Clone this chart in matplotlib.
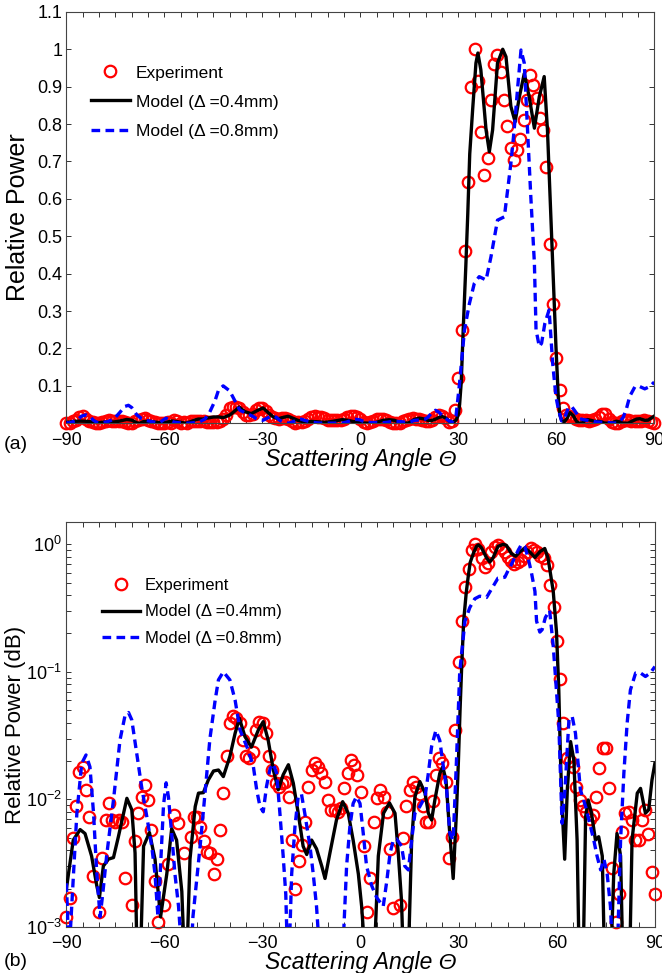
import numpy as np
import matplotlib
matplotlib.use("Agg")
from matplotlib import pyplot as plt
from matplotlib.ticker import MultipleLocator, LogLocator, NullFormatter, FixedLocator

plt.rcParams['font.family'] = ['Liberation Sans', 'DejaVu Sans']
plt.rcParams['mathtext.fontset'] = 'custom'
plt.rcParams['mathtext.rm'] = 'Liberation Sans'
plt.rcParams['mathtext.it'] = 'Liberation Sans:italic'

# measured scattered power, one point per degree
exp_angle = list(range(-90, 91))
exp_power = [
    0.0012, 0.0017, 0.0050, 0.0088, 0.0165, 0.0181, 0.0119, 0.0073, 0.0025, 0.0008,   # -90..-81
    0.0013, 0.0035, 0.0069, 0.0093, 0.0069, 0.0067, 0.0069, 0.0066, 0.0024, 0.0008,   # -80..-71
    0.0015, 0.0047, 0.0078, 0.0105, 0.0130, 0.0099, 0.0058, 0.0023, 0.0011, 0.0008,   # -70..-61
    0.0015, 0.0031, 0.0009, 0.0076, 0.0065, 0.0008, 0.0038, 0.0009, 0.0051, 0.0073,   # -60..-51
    0.0073, 0.0061, 0.0047, 0.0039, 0.0038, 0.0026, 0.0034, 0.0058, 0.0112, 0.0217,   # -50..-41
    0.0395, 0.0447, 0.0433, 0.0400, 0.0293, 0.0217, 0.0210, 0.0237, 0.0350, 0.0407,   # -40..-31
    0.0395, 0.0330, 0.0217, 0.0170, 0.0134, 0.0125, 0.0134, 0.0138, 0.0105, 0.0048,   # -30..-21
    0.0020, 0.0033, 0.0044, 0.0067, 0.0126, 0.0170, 0.0192, 0.0180, 0.0160, 0.0138,   # -20..-11
    0.0099, 0.0083, 0.0083, 0.0080, 0.0085, 0.0122, 0.0160, 0.0204, 0.0187, 0.0156,   # -10..-1
    0.0115, 0.0043, 0.0013, 0.0024, 0.0067, 0.0102, 0.0119, 0.0105, 0.0080, 0.0041,   # 0..9
    0.0014, 0.0008, 0.0015, 0.0050, 0.0088, 0.0119, 0.0138, 0.0126, 0.0110, 0.0088,   # 10..19
    0.0067, 0.0067, 0.0097, 0.0156, 0.0210, 0.0192, 0.0138, 0.0035, 0.0051, 0.035,    # 20..29
    0.12, 0.25, 0.46, 0.645, 0.90, 1.00, 0.915, 0.78, 0.665, 0.71,                    # 30..39
    0.865, 0.96, 0.985, 0.94, 0.865, 0.795, 0.735, 0.705, 0.73, 0.76,                 # 40..49
    0.81, 0.865, 0.93, 0.905, 0.87, 0.815, 0.785, 0.685, 0.48, 0.32,                  # 50..59
    0.175, 0.088, 0.040, 0.021, 0.020, 0.018, 0.0126, 0.0099, 0.0088, 0.0080,         # 60..69
    0.0070, 0.0075, 0.0105, 0.0176, 0.0252, 0.0252, 0.0122, 0.0029, 0.0011, 0.0018,   # 70..79
    0.0056, 0.0078, 0.0080, 0.0069, 0.0048, 0.0048, 0.0069, 0.0083, 0.0054, 0.0027,   # 80..89
    0.0018,                                                                           # 90
]

# model, delta = 0.4 mm
m04_angle = [
    -90.0, -87.9, -85.8, -84.3, -82.3, -80.7, -79.9, -78.7, -77.2, -75.6, -74.1,
    -71.5, -70.0, -69.0, -68.2, -67.4, -66.4, -64.6, -62.9, -61.2, -59.3, -57.8,
    -56.3, -54.7, -53.5, -52.2, -50.6, -49.6, -48.1, -46.6, -45.0, -43.5, -42.0,
    -40.0, -38.4, -37.1, -35.4, -33.4, -31.3, -29.8, -28.3, -26.7, -25.2, -23.7,
    -22.1, -20.6, -19.1, -17.6, -16.5, -15.0, -13.5, -11.9, -10.9, -9.4, -7.4,
    -5.5, -3.8, -2.3, -0.7, 0.3, 1.0, 2.5, 4.2, 5.4, 7.0, 8.8, 10.5, 11.5, 12.5,
    13.6, 14.8, 15.6, 16.6, 18.1, 19.7, 20.7, 21.7, 22.7, 24.2, 25.1, 26.1, 27.1,
    28.3, 29.3, 29.9, 30.4, 30.9, 31.5, 32.3, 32.9, 33.5, 34.4, 35.4, 36.0, 36.9,
    38.5, 39.5, 40.5, 42.0, 43.6, 44.6, 46.1, 47.4, 48.7, 50.2, 51.7, 53.3, 54.8,
    56.3, 57.3, 58.9, 59.9, 60.6, 61.1, 61.6, 62.4, 63.2, 64.2, 65.2, 66.2, 67.0,
    67.9, 68.8, 69.6, 70.6, 71.8, 72.8, 73.9, 74.8, 76.2, 77.4, 78.4, 79.5, 80.4,
    82.1, 83.0, 84.6, 85.6, 87.1, 88.1, 89.1, 90.0,
]
m04_power = [
    0.0020, 0.0048, 0.0058, 0.0054, 0.0036, 0.0021, 0.0017, 0.0030, 0.0034, 0.0035, 0.0051,
    0.0102, 0.0083, 0.0038, 0.0003, 0.0005, 0.0043, 0.0055, 0.0034, 0.0012, 0.0026, 0.0059,
    0.0048, 0.0019, 0.0003, 0.0034, 0.0088, 0.0112, 0.0113, 0.0142, 0.0167, 0.0170, 0.0151,
    0.0217, 0.0330, 0.0433, 0.0311, 0.0257, 0.0350, 0.0407, 0.0293, 0.0170, 0.0119, 0.0156,
    0.0187, 0.0134, 0.0078, 0.0043, 0.0037, 0.0048, 0.0041, 0.0030, 0.0024, 0.0038, 0.0069,
    0.0096, 0.0078, 0.0048, 0.0026, 0.00145, 0.0008, 0.0002, 0.0006, 0.0036, 0.0078, 0.0094, 0.0078, 0.0038, 0.0016,
    0.0002, 0.0009, 0.0048, 0.0105, 0.0138, 0.0112, 0.0078, 0.0069, 0.0099, 0.0160, 0.0180, 0.0142, 0.0061,
    0.0024, 0.0080, 0.020, 0.050, 0.11, 0.25, 0.42, 0.56, 0.72, 0.84, 0.963, 0.99, 0.945,
    0.784, 0.726, 0.784, 0.963, 1.0, 0.98, 0.847, 0.806, 0.873, 0.935, 0.873, 0.789, 0.873,
    0.927, 0.784, 0.428, 0.205, 0.072, 0.0217, 0.0088, 0.0034, 0.0119, 0.0284, 0.0204, 0.0048, 0.0003,
    0.0003, 0.0073, 0.0099, 0.0078, 0.0048, 0.0051, 0.0036, 0.0003, 0.0003, 0.0026, 0.0054, 0.0036, 0.0003,
    0.0003, 0.0048, 0.0112, 0.0122, 0.0078, 0.0083, 0.0142, 0.0192,
]

# model, delta = 0.8 mm
m08_angle = [
    -90.0, -89.2, -86.8, -85.3, -84.0, -82.8, -81.7, -80.7, -79.7, -78.9, -77.7,
    -75.6, -73.6, -72.1, -71.0, -70.0, -68.5, -67.0, -65.4, -63.9, -62.9, -62.0,
    -61.2, -60.3, -59.5, -58.8, -57.8, -56.8, -55.7, -55.0, -53.5, -52.0, -51.3,
    -49.1, -47.6, -46.1, -44.5, -43.5, -42.0, -40.0, -38.4, -36.9, -34.4, -32.8,
    -31.8, -30.8, -29.8, -28.8, -27.7, -26.7, -25.7, -24.7, -23.7, -22.9, -22.2,
    -21.5, -21.1, -20.1, -19.1, -18.1, -17.1, -15.5, -14.5, -13.5, -12.5, -9.0,
    -5.5, -4.3, -3.3, -2.3, -1.3, -0.2, 0.8, 1.8, 3.4, 4.9, 6.9, 8.0, 9.0, 10.0,
    11.0, 12.5, 13.5, 14.6, 15.6, 16.6, 18.1, 19.7, 20.7, 21.7, 23.0, 24.2, 25.3,
    26.3, 27.3, 28.3, 29.3, 30.3, 31.9, 33.4, 34.9, 36.4, 38.5, 40.0, 42.0, 44.1,
    45.1, 46.1, 47.1, 48.2, 49.2, 50.2, 51.2, 52.2, 53.3, 53.8, 54.8, 55.5, 56.5,
    57.8, 58.9, 59.9, 60.6, 61.6, 62.5, 63.7, 64.7, 65.7, 67.2, 68.8, 70.3, 71.3,
    72.3, 73.4, 74.4, 75.4, 76.4, 77.4, 78.5, 79.5, 80.5, 81.5, 82.5, 84.1, 85.6,
    87.1, 88.6, 90.0,
]
m08_power = [
    0.0022, 0.0006, 0.0078, 0.0192, 0.0223, 0.0180, 0.0078, 0.0026, 0.0012, 0.0018, 0.0036,
    0.0099, 0.0293, 0.045, 0.048, 0.042, 0.023, 0.0126, 0.0073, 0.0043, 0.0026, 0.0012,
    0.0030, 0.0090, 0.0135, 0.0105, 0.0054, 0.0026, 0.00145, 0.0008, 0.0002, 0.0005, 0.0012,
    0.0043, 0.0112, 0.030, 0.060, 0.0865, 0.100, 0.0865, 0.060, 0.035, 0.0244, 0.018,
    0.0119, 0.0088, 0.0080, 0.0126, 0.0175, 0.019, 0.016, 0.0078, 0.0036, 0.0018, 0.0004,
    0.0012, 0.0026, 0.0061, 0.0105, 0.011, 0.0078, 0.0043, 0.0026, 0.00145, 0.0006, 0.0002,
    0.0006, 0.0030, 0.0061, 0.0093, 0.0105, 0.0093, 0.0054, 0.0030, 0.0021, 0.0017, 0.00145, 0.0023, 0.0038, 0.0048,
    0.0049, 0.0043, 0.0030, 0.0028, 0.0048, 0.0078, 0.0088, 0.0105, 0.016, 0.026, 0.0347, 0.029, 0.018,
    0.0119, 0.0054, 0.0048, 0.020, 0.10, 0.25, 0.32, 0.374, 0.392, 0.383, 0.445, 0.543, 0.552,
    0.624, 0.695, 0.784, 0.90, 0.998, 0.963, 0.784, 0.606, 0.428, 0.25, 0.205, 0.214, 0.267,
    0.303, 0.16, 0.071, 0.0395, 0.0065, 0.012, 0.042, 0.0447, 0.033, 0.0119, 0.0088, 0.0061, 0.0048,
    0.0036, 0.0028, 0.0034, 0.0026, 0.00145, 0.0004, 0.0006, 0.0048, 0.016, 0.0395, 0.072, 0.098, 0.098,
    0.092, 0.098, 0.11,
]

x_ticks = [-90, -60, -30, 0, 30, 60, 90]
lin_yticks = [0.1, 0.2, 0.3, 0.4, 0.5, 0.6, 0.7, 0.8, 0.9, 1.0, 1.1]
lin_ylabels = ['0.1', '0.2', '0.3', '0.4', '0.5', '0.6', '0.7', '0.8', '0.9', '1', '1.1']

labels = ['Experiment', 'Model (\u0394 =0.4mm)', 'Model (\u0394 =0.8mm)']

fig = plt.figure(figsize=(6.62, 9.73), dpi=100)
ax1 = fig.add_axes([0.1003, 0.565, 0.888, 0.4228])
ax2 = fig.add_axes([0.1003, 0.0473, 0.889, 0.416])


def draw_panel(ax, log):
    ea = np.array(exp_angle)
    ep = np.array(exp_power)
    if log:
        keep = ep >= 1e-3
        ea, ep = ea[keep], ep[keep]
    ax.plot(ea, ep, 'o', mfc='none', mec='red', ms=8.3, mew=1.6, clip_on=False,
            label=labels[0], zorder=2)
    ax.plot(m04_angle, m04_power, '-', color='black', lw=2.4, label=labels[1], zorder=3)
    ax.plot(m08_angle, m08_power, color='blue', lw=2.4, ls=(0, (2.6, 1.6)),
            label=labels[2], zorder=4)
    ax.set_xlim(-90, 90)
    ax.xaxis.set_major_locator(FixedLocator(x_ticks))
    ax.xaxis.set_minor_locator(MultipleLocator(5))
    ax.tick_params(which='both', direction='in', top=True, right=True,
                   length=3.5, width=0.7, color='#333333')
    ax.tick_params(axis='both', which='major', labelsize=13)
    ax.tick_params(axis='x', pad=6)
    ax.tick_params(axis='y', pad=3)
    for s in ax.spines.values():
        s.set_linewidth(0.8)
        s.set_color('#444444')
    ax.set_xlabel('Scattering Angle \u0398', fontsize=16.5, style='italic')


draw_panel(ax1, False)
ax1.set_ylim(0, 1.1)
ax1.set_yticks(lin_yticks)
ax1.set_yticklabels(lin_ylabels)
ax1.set_ylabel('Relative Power', fontsize=18)
ax1.yaxis.set_label_coords(-0.062, 0.5)
ax1.xaxis.set_label_coords(0.5, -0.061)
ax1.legend(loc='upper left', bbox_to_anchor=(0.041, 0.87), frameon=False, fontsize=12.5,
           handlelength=2.3, handletextpad=0.3, labelspacing=0.8, borderpad=0,
           borderaxespad=0, numpoints=1)

draw_panel(ax2, True)
ax2.set_yscale('log')
ax2.set_ylim(1e-3, 1.49)
ax2.yaxis.set_major_locator(LogLocator(base=10, numticks=10))
ax2.yaxis.set_minor_locator(LogLocator(base=10, subs=np.arange(2, 10), numticks=20))
ax2.yaxis.set_minor_formatter(NullFormatter())
ax2.set_ylabel('Relative Power (dB)', fontsize=16)
ax2.yaxis.set_label_coords(-0.068, 0.5)
ax2.xaxis.set_label_coords(0.5, -0.06)
ax2.legend(loc='upper left', bbox_to_anchor=(0.06, 0.862), frameon=False, fontsize=12,
           handlelength=2.3, handletextpad=0.3, labelspacing=0.68, borderpad=0,
           borderaxespad=0, numpoints=1)

fig.text(0.006, 0.543, '(a)', fontsize=14, va='center', ha='left')
fig.text(0.006, 0.012, '(b)', fontsize=14, va='center', ha='left')

fig.savefig('out.png', dpi=100)
